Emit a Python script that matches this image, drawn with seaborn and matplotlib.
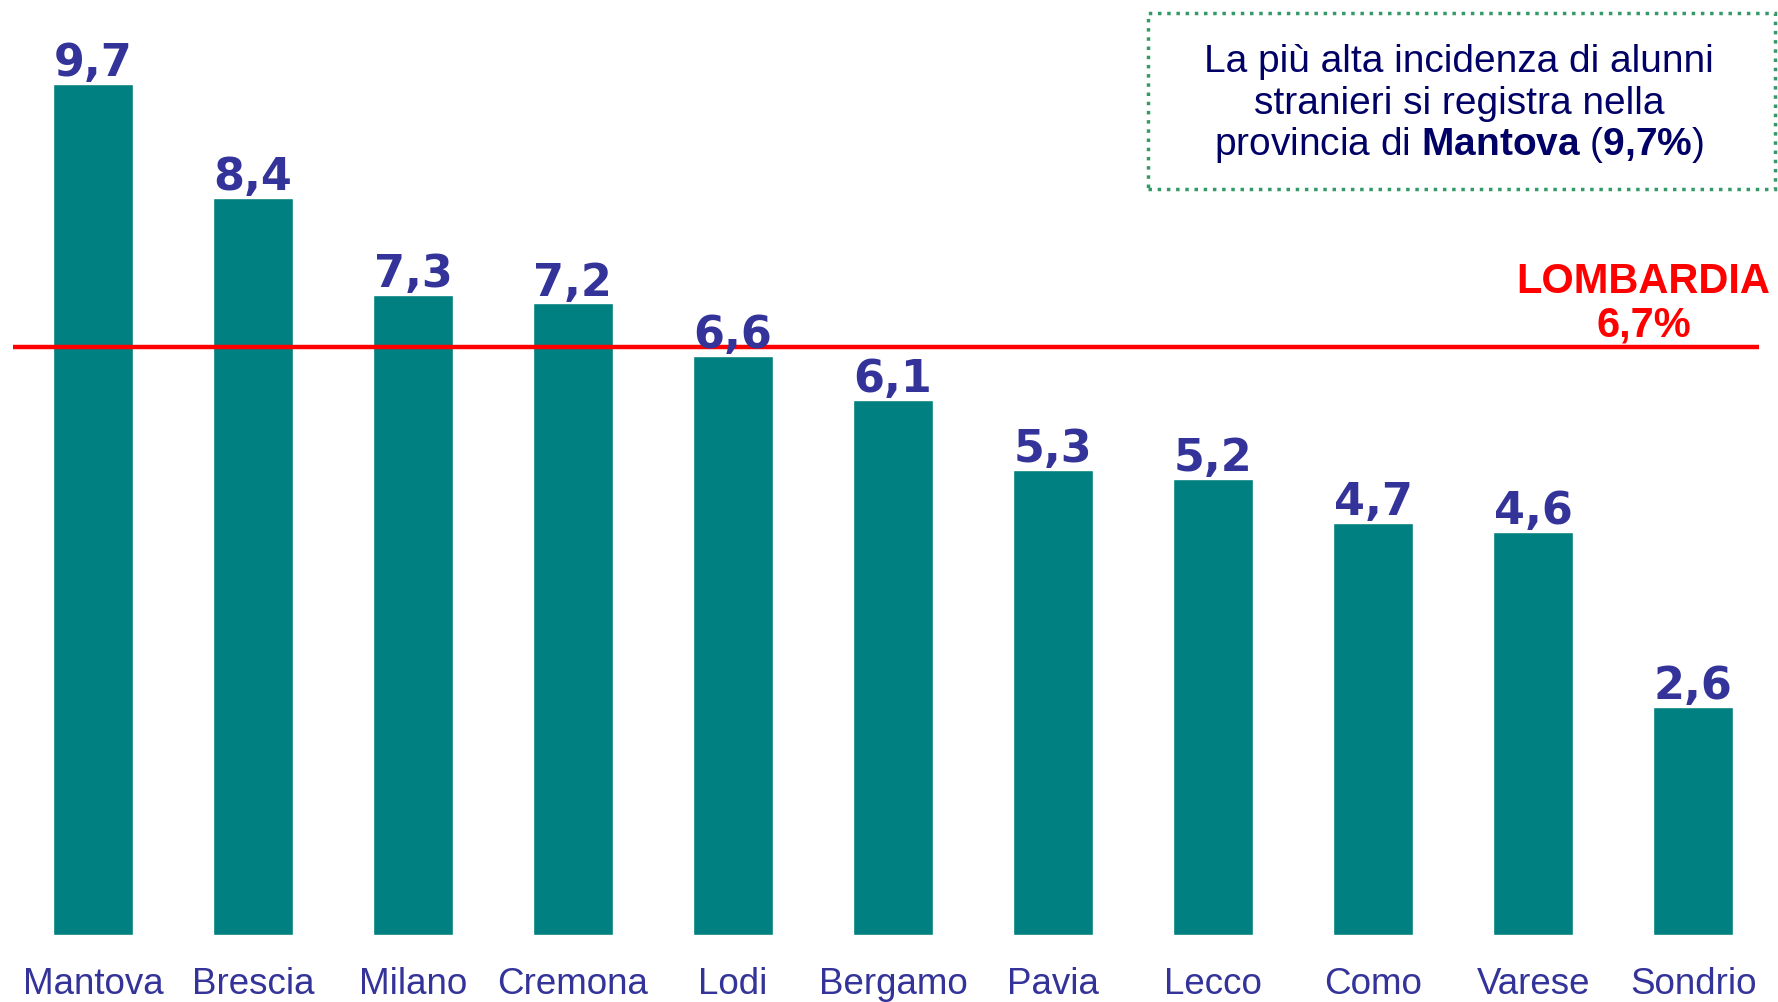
import matplotlib
matplotlib.use("Agg")
import matplotlib.pyplot as plt
import seaborn as sns
from matplotlib.patches import Rectangle

# data
province = ["Mantova", "Brescia", "Milano", "Cremona", "Lodi", "Bergamo",
            "Pavia", "Lecco", "Como", "Varese", "Sondrio"]
incidenza = [9.7, 8.4, 7.3, 7.2, 6.6, 6.1, 5.3, 5.2, 4.7, 4.6, 2.6]
value_labels = ["9,7", "8,4", "7,3", "7,2", "6,6", "6,1", "5,3", "5,2", "4,7", "4,6", "2,6"]
lombardia = 6.7

sns.set_style("white")
plt.rcParams["font.family"] = ["Liberation Sans", "DejaVu Sans"]
plt.rcParams["mathtext.fontset"] = "custom"
plt.rcParams["mathtext.rm"] = "Liberation Sans"
plt.rcParams["mathtext.bf"] = "Liberation Sans:bold"

fig = plt.figure(figsize=(17.78, 10.03), dpi=100)
ax = fig.add_axes([0, 0, 1, 1])

sns.barplot(x=province, y=incidenza, color="#008080", saturation=1,
            width=0.5, ax=ax)

ax.set_xlim(-0.58, 10.53)
ax.set_ylim(-0.76, 10.67)
ax.axis("off")

blue = "#333399"
for i, (v, lab) in enumerate(zip(incidenza, value_labels)):
    ax.text(i, v + 0.1, lab, ha="center", va="baseline", color=blue,
            fontsize=32, fontweight="bold", family="DejaVu Sans")
    ax.text(i, -0.655, province[i], ha="center", va="baseline", color=blue,
            fontsize=26.5)

# regional average line
ax.hlines(lombardia, -0.5, 10.41, color="#FF0000", lw=3.2)
ax.text(9.69, 7.33, "LOMBARDIA", ha="center", va="baseline", color="#FF0000",
        fontsize=30, fontweight="bold")
ax.text(9.69, 6.84, "6,7%", ha="center", va="baseline", color="#FF0000",
        fontsize=30, fontweight="bold")

# note box
W, H = 1778, 1003
fig.patches.append(Rectangle((1148 / W, 1 - 190 / H), 627 / W, 176 / H,
                             transform=fig.transFigure, fill=False,
                             edgecolor="#339966", lw=2.5, ls=":"))
navy = "#000066"
cx = 1459 / W
fig.text(cx, 1 - 62 / H, "La più alta incidenza di alunni", ha="center",
         va="center", color=navy, fontsize=28)
fig.text(cx, 1 - 104 / H, "stranieri si registra nella", ha="center",
         va="center", color=navy, fontsize=28)
fig.text(cx, 1 - 145 / H,
         r"provincia di $\mathbf{Mantova}$ ($\mathbf{9{,}7\%}$)",
         ha="center", va="center", color=navy, fontsize=28)

fig.savefig("out.png", dpi=100)
